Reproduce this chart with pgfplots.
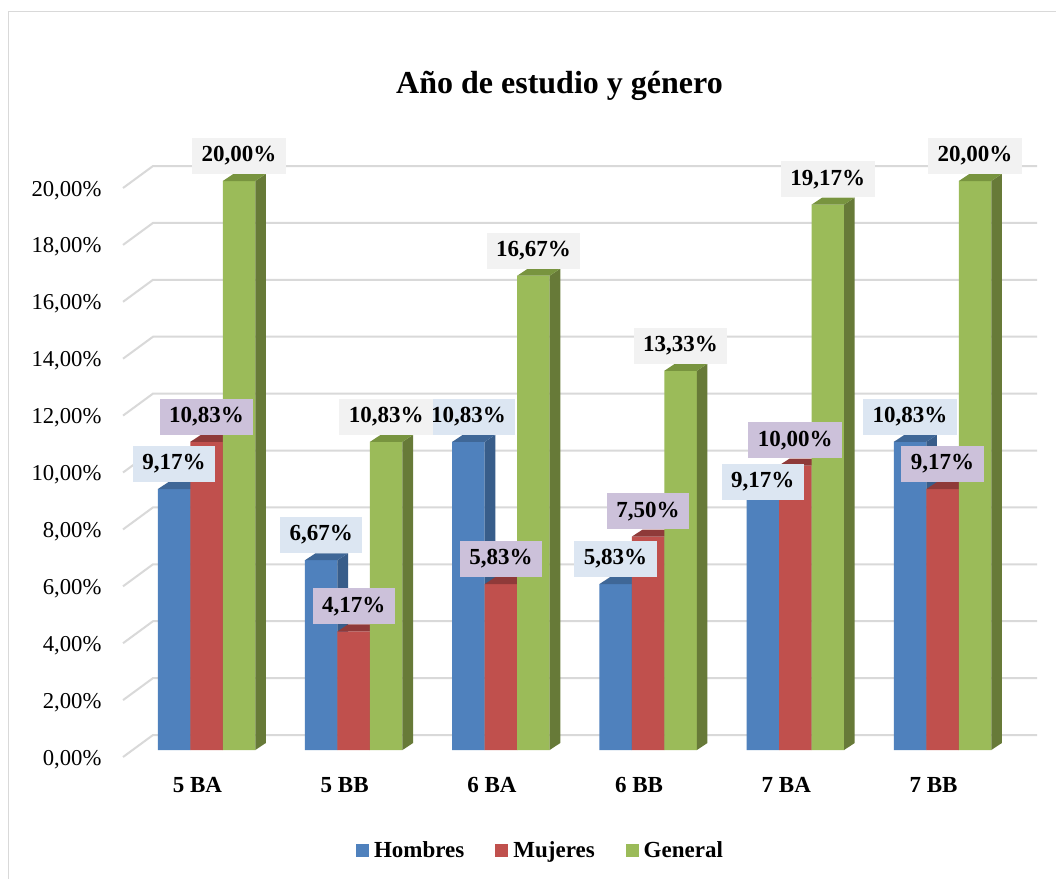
\documentclass[border=0pt]{standalone}
\usepackage{fontspec}
\setmainfont{Liberation Serif}
\usepackage{pgfplots}
\usepackage{pgfplotstable}
\pgfplotsset{compat=1.18}

\definecolor{hfront}{HTML}{4F81BD}
\definecolor{hside}{HTML}{385D8A}
\definecolor{htop}{HTML}{3F6797}
\definecolor{mfront}{HTML}{C0504D}
\definecolor{mside}{HTML}{8C3836}
\definecolor{mtop}{HTML}{8F3A39}
\definecolor{gfront}{HTML}{9BBB59}
\definecolor{gside}{HTML}{677A38}
\definecolor{gtop}{HTML}{78943F}
\definecolor{hlab}{HTML}{DCE6F2}
\definecolor{mlab}{HTML}{CCC1DA}
\definecolor{glab}{HTML}{F2F2F2}
\definecolor{gridc}{HTML}{D9D9D9}

% values (%) and label offsets (axis units) for each series
\pgfplotstableread{
x H M G Ho Mo Go
0 9.17 10.83 20.00 0 0 0
1 6.67 4.17 10.83 0 0 0
2 10.83 5.83 16.67 0 0 0
3 5.83 7.50 13.33 0 0 0
4 9.17 10.00 19.17 -0.63 0 0
5 10.83 9.17 20.00 0 0 0
}\datatable

\def\bw{0.2208}
\def\bdx{0.072}
\def\bdy{0.246}
\newcommand\lbfont{\fontsize{23}{27}\selectfont\bfseries}

% side and top faces of the bars of one series
\newcommand\barfaces[4]{%
  \pgfplotsforeachungrouped \i in {0,...,5}{%
    \pgfplotstablegetelem{\i}{#1}\of\datatable
    \let\bv=\pgfplotsretval
    \pgfmathsetmacro\xl{\i+(#2)*\bw-\bw/2}%
    \pgfmathsetmacro\xr{\xl+\bw}%
    \pgfmathsetmacro\xld{\xl+\bdx}%
    \pgfmathsetmacro\xrd{\xr+\bdx}%
    \pgfmathsetmacro\bvd{\bv+\bdy}%
    \edef\tmp{%
      \noexpand\addplot[fill=#3,draw=none,forget plot] coordinates {(\xr,0) (\xrd,\bdy) (\xrd,\bvd) (\xr,\bv)};
      \noexpand\addplot[fill=#4,draw=none,forget plot] coordinates {(\xl,\bv) (\xr,\bv) (\xrd,\bvd) (\xld,\bvd)};
    }\tmp
  }}

\newcommand\labelplot[4]{% column, shift factor, fill, offset column
  \addplot[draw=none, mark=none, forget plot, point meta=explicit,
    nodes near coords={\pgfmathprintnumber[fixed,fixed zerofill,precision=2,use comma,assume math mode=true]{\pgfplotspointmeta}\%},
    every node near coord/.append style={fill=#3, text=black, font=\lbfont, anchor=south,
      inner xsep=9.5pt, inner ysep=0pt, minimum height=36pt}]
    table[x expr=\thisrow{x}+(#2)*\bw, y expr=\thisrow{#1}+\bdy+\thisrow{#4}, meta=#1]{\datatable};}

\begin{document}
\begin{tikzpicture}
\useasboundingbox (0,0) rectangle (1056pt,-878pt);
\fill[white] (0,0) rectangle (1056pt,-878pt);
\draw[gridc, line width=1.5pt] (8.3pt,-880pt) -- (8.3pt,-11.7pt) -- (1060pt,-11.7pt);

\begin{axis}[
  at={(123.04pt,-750pt)}, anchor=south west,
  x=147.2pt, y=28.45pt,
  xmin=-0.567, xmax=5.642, ymin=0, ymax=21,
  clip=false,
  axis line style={draw=none},
  major tick length=0pt,
  tick style={draw=none},
  xtick={0,...,5},
  xticklabels={5 BA,5 BB,6 BA,6 BB,7 BA,7 BB},
  xticklabel style={font=\lbfont, anchor=base, yshift=-42pt, xshift=-9pt},
  ytick={0,2,...,20},
  yticklabel={\pgfmathprintnumber[fixed,fixed zerofill,precision=2,use comma,assume math mode=true]{\tick}\%},
  yticklabel style={font=\fontsize{22.7}{27}\selectfont, anchor=base east, xshift=-18pt, yshift=-15pt},
  legend columns=3,
  legend style={draw=none, fill=none, at={(0.4584,-0.1674)}, anchor=center,
    font=\lbfont, /tikz/every even column/.append style={column sep=26pt},
    inner sep=0pt, nodes={inner xsep=5pt}},
  legend image code/.code={\fill[#1] (0pt,-6.5pt) rectangle (13pt,6.5pt);},
]
% gridlines on the back wall
\pgfplotsforeachungrouped \k in {0,2,...,20}{%
  \pgfmathsetmacro\ya{\k-0.246}%
  \pgfmathsetmacro\yb{\k+0.527}%
  \edef\tmp{\noexpand\addplot[gridc, line width=2pt, forget plot] coordinates {(-0.567,\ya) (-0.3635,\yb) (5.642,\yb)};}\tmp
}

\addplot[ybar, bar width=\bw, bar shift=-\bw, fill=hfront, draw=none] table[x=x,y=H]{\datatable};
\addlegendentry{Hombres}
\barfaces{H}{-1}{hside}{htop}
\addplot[ybar, bar width=\bw, bar shift=0, fill=mfront, draw=none] table[x=x,y=M]{\datatable};
\addlegendentry{Mujeres}
\barfaces{M}{0}{mside}{mtop}
\addplot[ybar, bar width=\bw, bar shift=\bw, fill=gfront, draw=none] table[x=x,y=G]{\datatable};
\addlegendentry{General}
\barfaces{G}{1}{gside}{gtop}

\labelplot{H}{-1}{hlab}{Ho}
\labelplot{M}{0}{mlab}{Mo}
\labelplot{G}{1}{glab}{Go}
\end{axis}

\node[font=\bfseries\fontsize{32}{38}\selectfont, anchor=base] at (559.5pt,-93pt) {Año de estudio y género};
\end{tikzpicture}
\end{document}
